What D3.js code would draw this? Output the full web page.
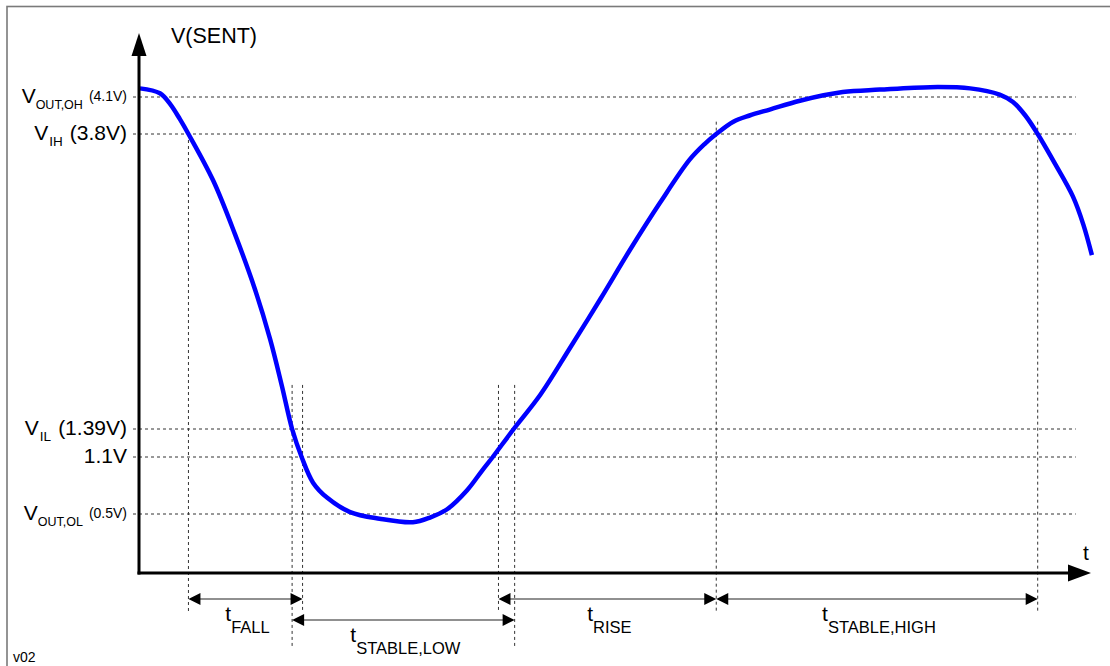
<!DOCTYPE html>
<html>
<head>
<meta charset="utf-8">
<script src="https://cdn.jsdelivr.net/npm/d3@7"></script>
<style>
  html, body { margin: 0; padding: 0; background: #fff; }
  svg { display: block; font-family: "Liberation Sans", Arial, Helvetica, sans-serif; }
</style>
</head>
<body>
<svg id="chart" width="1110" height="666"></svg>
<script>
// Threshold levels of the SENT output (volts)
const levelValues     = [4.1, 3.8, 1.39, 1.1, 0.5];
const levelSubscripts = ["OUT,OH", "IH", "IL", "", "OUT,OL"];
const levelNotes      = ["(4.1V)", "(3.8V)", "(1.39V)", "1.1V", "(0.5V)"];

// Waveform samples: time (arbitrary units) and voltage
const sampleTimes = [0.01, 0.22, 0.33, 0.43, 0.52, 0.78, 1.01, 1.22, 1.38, 1.50, 1.61, 1.71,
                     1.83, 1.98, 2.22, 2.53, 2.88, 3.06, 3.24, 3.45, 3.61, 3.72, 3.94, 4.22,
                     4.53, 4.85, 5.16, 5.48, 5.79, 5.95, 6.07, 6.25, 6.42, 6.64, 6.95, 7.40,
                     7.79, 8.32, 8.74, 9.05, 9.19, 9.32, 9.45, 9.63, 9.82, 9.93, 10.02];
const sampleVolts = [4.17, 4.13, 4.04, 3.92, 3.80, 3.42, 2.98, 2.53, 2.12, 1.75, 1.39, 1.10,
                     0.83, 0.67, 0.52, 0.46, 0.43, 0.47, 0.55, 0.75, 0.96, 1.10, 1.39, 1.67,
                     2.05, 2.45, 2.85, 3.24, 3.59, 3.72, 3.80, 3.90, 3.95, 4.00, 4.07, 4.14,
                     4.16, 4.18, 4.17, 4.12, 4.06, 3.95, 3.80, 3.56, 3.29, 3.06, 2.81];

// Timing intervals shown under the time axis
const spanNames  = ["FALL", "STABLE,LOW", "RISE", "STABLE,HIGH"];
const spanStarts = [0.52, 1.61, 3.78, 6.07];
const spanEnds   = [1.72, 3.95, 6.07, 9.45];
const spanLanes  = [0, 1, 0, 0];

// Guide lines dropped from the waveform to the interval arrows
const guideTimes    = [0.52, 1.61, 1.72, 3.78, 3.95, 6.07, 9.45];
const guideTopVolts = [3.8, 1.75, 1.75, 1.75, 1.75, 3.9, 3.9];

const svg = d3.select("#chart");

// Scales: linear time axis, schematic (piecewise) voltage axis
const x = d3.scaleLinear().domain([0, 10]).range([139, 1090]);
const y = d3.scaleLinear()
  .domain([0].concat(levelValues.slice().reverse()))
  .range([573, 514, 457, 429, 134, 97]);

const x0 = x(0), y0 = y(0);
const gridEnd = x(9.85);

// Frame
svg.append("rect")
  .attr("x", 7).attr("y", 6.5).attr("width", 1130).attr("height", 680)
  .attr("fill", "none").attr("stroke", "#7a7a7a").attr("stroke-width", 1.6);

// Horizontal threshold lines
svg.append("g").selectAll("line").data(levelValues).join("line")
  .attr("x1", x0 - 6).attr("x2", gridEnd)
  .attr("y1", d => y(d)).attr("y2", d => y(d))
  .attr("stroke", "#333").attr("stroke-width", 1)
  .attr("stroke-dasharray", "3,3");

// Vertical guides
const laneY = l => 599 + l * 21;
const guideLane = t => d3.max(spanNames.map((n, i) =>
  (spanStarts[i] === t || spanEnds[i] === t) ? spanLanes[i] : -1));
svg.append("g").selectAll("line").data(guideTimes).join("line")
  .attr("x1", d => x(d)).attr("x2", d => x(d))
  .attr("y1", (d, i) => y(guideTopVolts[i]))
  .attr("y2", d => guideLane(d) === 1 ? laneY(1) + 28 : laneY(0) + 13)
  .attr("stroke", "#333").attr("stroke-width", 1)
  .attr("stroke-dasharray", "3,3");

// Threshold labels
const labels = svg.append("g").attr("fill", "#000");
levelValues.forEach((v, i) => {
  const t = labels.append("text")
    .attr("x", 127).attr("y", y(v) + 6)
    .attr("text-anchor", "end").attr("font-size", 21);
  const sub = levelSubscripts[i];
  if (sub) {
    t.append("tspan").text("V");
    if (sub.length > 2) {
      t.append("tspan").attr("font-size", 12.5).attr("dy", 6).text(sub);
      t.append("tspan").attr("font-size", 14).attr("dy", -8).attr("dx", 6).text(levelNotes[i]);
    } else {
      t.append("tspan").attr("font-size", 13.5).attr("dy", 6).attr("dx", 1).text(sub);
      t.append("tspan").attr("dy", -6).attr("dx", 7).text(levelNotes[i]);
    }
  } else {
    t.append("tspan").text(levelNotes[i]);
  }
});

// Waveform
const line = d3.line()
  .x(d => x(d[0])).y(d => y(d[1]))
  .curve(d3.curveCatmullRom.alpha(0.5));
svg.append("path")
  .datum(sampleTimes.map((t, i) => [t, sampleVolts[i]]))
  .attr("d", line)
  .attr("fill", "none").attr("stroke", "#0000ff")
  .attr("stroke-width", 4.5).attr("stroke-linejoin", "round");

// Axes with arrowheads
const axes = svg.append("g");
axes.append("line")
  .attr("x1", x0).attr("x2", x0).attr("y1", y0 + 1.5).attr("y2", 50)
  .attr("stroke", "#000").attr("stroke-width", 3);
axes.append("path")
  .attr("d", `M${x0},33 L${x0 - 7.5},56 L${x0 + 7.5},56 Z`).attr("fill", "#000");
axes.append("line")
  .attr("x1", x0 - 1.5).attr("x2", 1072).attr("y1", y0).attr("y2", y0)
  .attr("stroke", "#000").attr("stroke-width", 3);
axes.append("path")
  .attr("d", `M1091,${y0} L1068,${y0 - 8.5} L1068,${y0 + 8.5} Z`).attr("fill", "#000");

svg.append("text").attr("x", 171).attr("y", 43).attr("font-size", 21.5).text("V(SENT)");
svg.append("text").attr("x", 1083).attr("y", 560).attr("font-size", 21).text("t");

// Interval arrows and names
const spans = svg.append("g");
spanNames.forEach((name, i) => {
  const xa = x(spanStarts[i]), xb = x(spanEnds[i]);
  const ly = laneY(spanLanes[i]);
  spans.append("line")
    .attr("x1", xa + 6).attr("x2", xb - 6).attr("y1", ly).attr("y2", ly)
    .attr("stroke", "#222").attr("stroke-width", 1.2);
  spans.append("path")
    .attr("d", `M${xa},${ly} L${xa + 12},${ly - 6} L${xa + 12},${ly + 6} Z`).attr("fill", "#000");
  spans.append("path")
    .attr("d", `M${xb},${ly} L${xb - 12},${ly - 6} L${xb - 12},${ly + 6} Z`).attr("fill", "#000");
  const lbl = spans.append("text")
    .attr("x", (xa + xb) / 2 + 2).attr("y", ly + 22)
    .attr("text-anchor", "middle").attr("font-size", 21);
  lbl.append("tspan").text("t");
  lbl.append("tspan").attr("font-size", 16.5).attr("dy", 12).text(name);
});

svg.append("text").attr("x", 13).attr("y", 662).attr("font-size", 14).text("v02");
</script>
</body>
</html>
